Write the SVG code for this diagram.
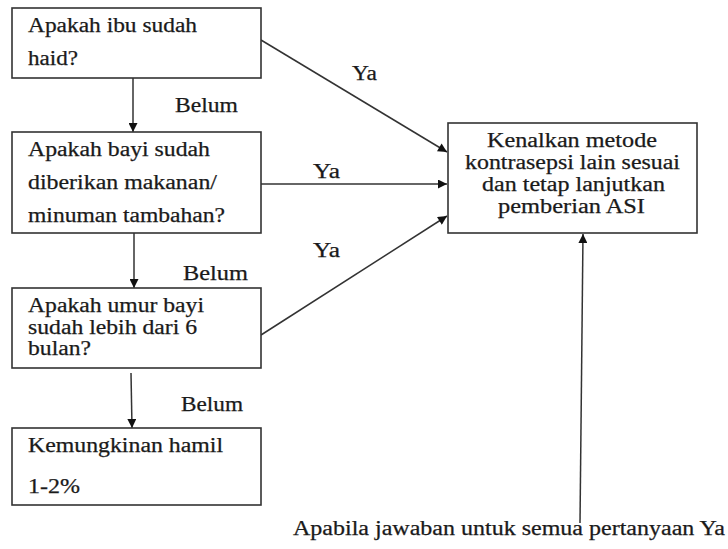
<svg xmlns="http://www.w3.org/2000/svg" width="728" height="549" viewBox="0 0 728 549">
<style>
.box{fill:#fff;stroke:#333;stroke-width:1.6}
.t{font-family:"Liberation Serif","Times New Roman",serif;font-size:20px;fill:#1a1a1a;stroke:#1a1a1a;stroke-width:0.25}
.ln{stroke:#333;stroke-width:1.5;fill:none;marker-end:url(#ah)}
</style>
<defs>
<marker id="ah" viewBox="0 0 10 10" refX="10" refY="5" markerWidth="10" markerHeight="9" markerUnits="userSpaceOnUse" orient="auto">
<path d="M0,0 L10,5 L0,10 z" fill="#111"/>
</marker>
</defs>
<rect width="728" height="549" fill="#fff"/>
<g id="connectors">
<line class="ln" x1="133" y1="78" x2="133" y2="132"/>
<line class="ln" x1="134" y1="233" x2="134" y2="288"/>
<line class="ln" x1="131" y1="373" x2="132" y2="428"/>
<line class="ln" x1="261" y1="40" x2="447" y2="152"/>
<line class="ln" x1="261" y1="184" x2="447" y2="184"/>
<line class="ln" x1="261" y1="335" x2="447" y2="216"/>
<line class="ln" x1="580" y1="523" x2="583" y2="234"/>
<text class="t" x="175" y="112" textLength="63" lengthAdjust="spacingAndGlyphs">Belum</text>
<text class="t" x="183" y="280" textLength="65" lengthAdjust="spacingAndGlyphs">Belum</text>
<text class="t" x="181" y="411" textLength="62" lengthAdjust="spacingAndGlyphs">Belum</text>
<text class="t" x="352" y="80" textLength="25" lengthAdjust="spacingAndGlyphs">Ya</text>
<text class="t" x="313" y="178" textLength="27" lengthAdjust="spacingAndGlyphs">Ya</text>
<text class="t" x="313" y="257" textLength="27" lengthAdjust="spacingAndGlyphs">Ya</text>
<text class="t" x="293" y="535" textLength="432" lengthAdjust="spacingAndGlyphs">Apabila jawaban untuk semua pertanyaan Ya</text>
</g>
<g id="q1">
<rect class="box" x="12" y="8" width="249" height="70"/>
<text class="t" x="28" y="32" textLength="169" lengthAdjust="spacingAndGlyphs">Apakah ibu sudah</text>
<text class="t" x="28" y="65" textLength="50" lengthAdjust="spacingAndGlyphs">haid?</text>
</g>
<g id="q2">
<rect class="box" x="12" y="132" width="249" height="101"/>
<text class="t" x="28" y="156" textLength="182" lengthAdjust="spacingAndGlyphs">Apakah bayi sudah</text>
<text class="t" x="28" y="189" textLength="189" lengthAdjust="spacingAndGlyphs">diberikan makanan/</text>
<text class="t" x="28" y="222" textLength="197" lengthAdjust="spacingAndGlyphs">minuman tambahan?</text>
</g>
<g id="q3">
<rect class="box" x="12" y="288" width="249" height="80"/>
<text class="t" x="28" y="312" textLength="176" lengthAdjust="spacingAndGlyphs">Apakah umur bayi</text>
<text class="t" x="28" y="334" textLength="169" lengthAdjust="spacingAndGlyphs">sudah lebih dari 6</text>
<text class="t" x="28" y="355" textLength="63" lengthAdjust="spacingAndGlyphs">bulan?</text>
</g>
<g id="result">
<rect class="box" x="12" y="428" width="249" height="77"/>
<text class="t" x="28" y="452" textLength="195" lengthAdjust="spacingAndGlyphs">Kemungkinan hamil</text>
<text class="t" x="28" y="493" textLength="52" lengthAdjust="spacingAndGlyphs">1-2%</text>
</g>
<g id="action">
<rect class="box" x="448" y="123" width="249" height="110"/>
<text class="t" x="487" y="147" textLength="170" lengthAdjust="spacingAndGlyphs">Kenalkan metode</text>
<text class="t" x="465" y="169" textLength="215" lengthAdjust="spacingAndGlyphs">kontrasepsi lain sesuai</text>
<text class="t" x="482" y="191" textLength="183" lengthAdjust="spacingAndGlyphs">dan tetap lanjutkan</text>
<text class="t" x="498" y="213" textLength="147" lengthAdjust="spacingAndGlyphs">pemberian ASI</text>
</g>
</svg>
